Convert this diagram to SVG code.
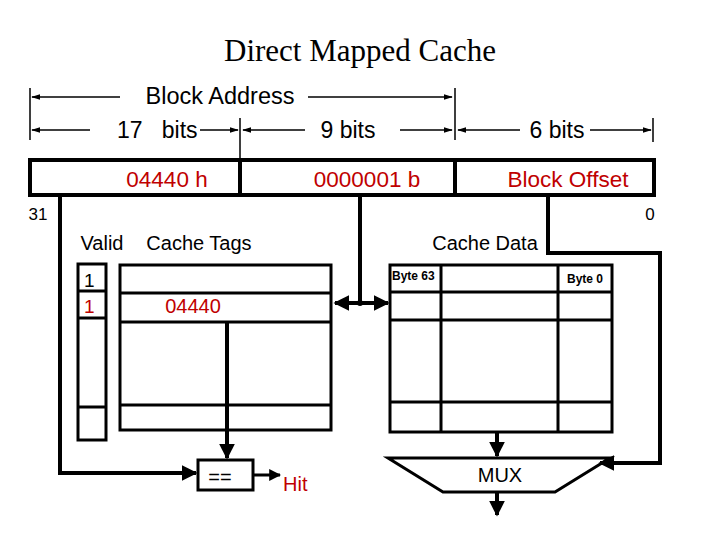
<svg xmlns="http://www.w3.org/2000/svg" width="720" height="540" viewBox="0 0 720 540">
<style>
.t{font-family:"Liberation Sans",Arial,sans-serif;fill:#000}
.r{fill:#c00000}
.thick{stroke:#000;stroke-width:4;fill:none}
.thin{stroke:#000;stroke-width:1.5;fill:none}
.box{stroke:#000;stroke-width:3;fill:#fff}
</style>
<defs>
<marker id="a" viewBox="0 0 10 10" refX="9" refY="5" markerWidth="4" markerHeight="4" orient="auto-start-reverse"><path d="M0,0L10,5L0,10z" fill="#000"/></marker>
<marker id="s" viewBox="0 0 10 10" refX="9" refY="5" markerWidth="6" markerHeight="6" orient="auto-start-reverse"><path d="M0,2L10,5L0,8z" fill="#000"/></marker>
</defs>
<rect width="720" height="540" fill="#fff"/>
<text x="360" y="61" text-anchor="middle" font-family="Liberation Serif,serif" font-size="31">Direct Mapped Cache</text>
<g id="dimensions">
<path class="thin" d="M30 88V140M455 88V140M240 118V160M653 118V142"/>
<path class="thin" d="M120 97H32" marker-end="url(#s)"/>
<path class="thin" d="M308 97H452" marker-end="url(#s)"/>
<path class="thin" d="M90 130H32" marker-end="url(#s)"/>
<path class="thin" d="M200 130H238" marker-end="url(#s)"/>
<path class="thin" d="M305 130H243" marker-end="url(#s)"/>
<path class="thin" d="M400 130H452" marker-end="url(#s)"/>
<path class="thin" d="M520 130H458" marker-end="url(#s)"/>
<path class="thin" d="M590 130H651" marker-end="url(#s)"/>
<text class="t" x="220" y="104" text-anchor="middle" font-size="23.5">Block Address</text>
<text class="t" x="117" y="138" font-size="23" xml:space="preserve">17   bits</text>
<text class="t" x="348" y="138" text-anchor="middle" font-size="23">9 bits</text>
<text class="t" x="557" y="138" text-anchor="middle" font-size="23">6 bits</text>
</g>
<g id="address">
<rect class="box" x="30" y="160" width="624" height="35" style="stroke-width:4"/>
<path class="thick" d="M240 160V195M455 160V195"/>
<text class="t r" x="167" y="187" text-anchor="middle" font-size="22.5">04440 h</text>
<text class="t r" x="367" y="187" text-anchor="middle" font-size="22.5">0000001 b</text>
<text class="t r" x="568" y="187" text-anchor="middle" font-size="22.5">Block Offset</text>
<text class="t" x="38" y="220" text-anchor="middle" font-size="17">31</text>
<text class="t" x="650" y="220" text-anchor="middle" font-size="17">0</text>
</g>
<text class="t" x="102" y="250" text-anchor="middle" font-size="20">Valid</text>
<text class="t" x="199" y="250" text-anchor="middle" font-size="20">Cache Tags</text>
<text class="t" x="485" y="250" text-anchor="middle" font-size="20">Cache Data</text>
<g id="valid">
<rect class="box" x="78" y="264" width="28" height="176"/>
<path class="box" d="M78 291H106M78 318H106M78 407H106"/>
<text class="t" x="84" y="287" font-size="19">1</text>
<text class="t r" x="84" y="313" font-size="19">1</text>
</g>
<g id="tags">
<rect class="box" x="120" y="265" width="211" height="165"/>
<path class="box" d="M120 293H331M120 322H331M120 405H331"/>
<text class="t r" x="193" y="313" text-anchor="middle" font-size="20">04440</text>
</g>
<g id="data">
<rect class="box" x="390" y="265" width="222" height="167"/>
<path class="box" d="M441 265V432M558 265V432M390 292H612M390 320H612M390 402H612"/>
<text class="t" x="392" y="280" font-size="12" font-weight="bold">Byte 63</text>
<text class="t" x="567" y="283" font-size="12" font-weight="bold">Byte 0</text>
</g>
<g id="compare">
<rect class="box" x="198" y="460" width="55" height="30"/>
<text class="t" x="220" y="484" text-anchor="middle" font-size="20">==</text>
<text class="t r" x="283" y="491" font-size="20">Hit</text>
</g>
<g id="mux">
<path class="box" d="M388 458H610L555 492H443Z"/>
<text class="t" x="500" y="482" text-anchor="middle" font-size="20">MUX</text>
</g>
<g id="connectors">
<path class="thick" d="M60 195V473H196" marker-end="url(#a)"/>
<path class="thick" d="M227 322V458" marker-end="url(#a)"/>
<path class="thick" d="M360 195V303"/>
<path class="thick" d="M335 303H388" marker-start="url(#a)" marker-end="url(#a)"/>
<circle cx="360" cy="303" r="3" fill="#000"/>
<path class="thick" d="M548 195V253H660V463H600" marker-end="url(#a)"/>
<path class="thick" d="M497 432V456" marker-end="url(#a)"/>
<path class="thick" d="M497 492V515" marker-end="url(#a)"/>
<path class="thick" d="M253 475H280" style="stroke-width:3" marker-end="url(#a)"/>
</g>
</svg>
